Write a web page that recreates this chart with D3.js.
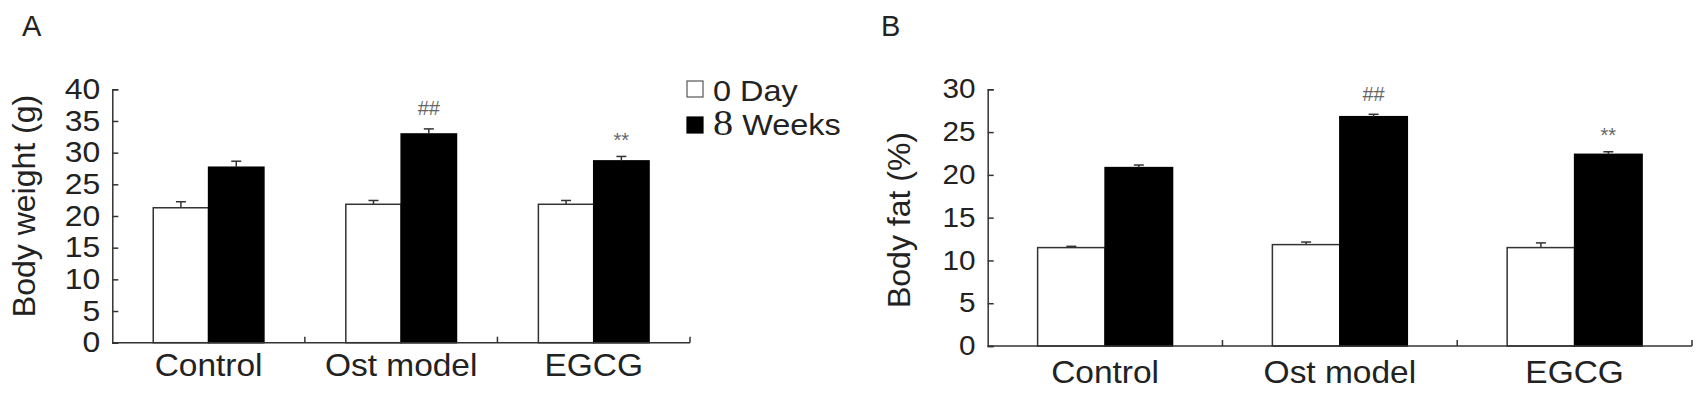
<!DOCTYPE html>
<html>
<head>
<meta charset="utf-8">
<script src="https://cdn.jsdelivr.net/npm/d3@7"></script>
<style>
  body { margin: 0; background: #fff; }
  text { font-family: Arial, "Liberation Sans", sans-serif; fill: #222; }
</style>
</head>
<body>
<div class="canvas"></div>
<script>
// data
const categories = ['Control', 'Ost model', 'EGCG']
const series = ['0 Day', '8 Weeks']

const weightDay0 = [21.3, 21.85, 21.85]
const weightDay0Err = [0.95, 0.6, 0.6]
const weightWeek8 = [27.7, 32.95, 28.7]
const weightWeek8Err = [0.95, 0.8, 0.7]
const weightMarks = ['', '##', '**']
const weightTicks = [0, 5, 10, 15, 20, 25, 30, 35, 40]

const fatDay0 = [11.5, 11.85, 11.5]
const fatDay0Err = [0.15, 0.3, 0.55]
const fatWeek8 = [20.85, 26.8, 22.4]
const fatWeek8Err = [0.3, 0.28, 0.3]
const fatMarks = ['', '##', '**']
const fatTicks = [0, 5, 10, 15, 20, 25, 30]

const fills = {'0 Day': '#fff', '8 Weeks': '#000'}
const ink = '#333'

const svg = d3.select('.canvas')
  .append('svg')
  .attr('width', 1705)
  .attr('height', 396)

const drawPanel = (p) => {
  const rows = categories.map((c, i) => ({
    cat: c,
    bars: [
      {key: series[0], value: p.day0[i], err: p.day0Err[i]},
      {key: series[1], value: p.week8[i], err: p.week8Err[i]}
    ],
    mark: p.marks[i]
  }))

  const y = d3.scaleLinear()
    .domain([0, d3.max(p.ticks)])
    .range([p.bottom, p.top])

  const x0 = d3.scaleBand()
    .domain(categories)
    .range([p.left, p.right])
    .padding(0)

  const x1 = d3.scaleBand()
    .domain(series)
    .range([0, x0.bandwidth()])
    .paddingInner(0)
    .paddingOuter(0.74)

  // y axis, ticks pointing inwards
  const yAxis = d3.axisLeft(y)
    .tickValues(p.ticks)
    .tickSize(-6)
    .tickPadding(11)

  const yg = svg.append('g')
    .attr('transform', `translate(${p.left}, 0)`)
    .call(yAxis)
  yg.selectAll('path, line').attr('stroke', ink).attr('stroke-width', 1.5)
  yg.selectAll('text')
    .attr('font-size', p.tickFont)
    .attr('font-family', 'Arial, "Liberation Sans", sans-serif')
    .attr('fill', '#222')
    .attr('transform', 'scale(1.1, 1)')

  // bars
  const groups = svg.selectAll(null)
    .data(rows)
    .enter()
    .append('g')
    .attr('transform', d => `translate(${x0(d.cat)}, 0)`)

  groups.selectAll('rect')
    .data(d => d.bars)
    .enter()
    .append('rect')
    .attr('x', d => x1(d.key))
    .attr('y', d => y(d.value))
    .attr('width', x1.bandwidth())
    .attr('height', d => y(0) - y(d.value))
    .attr('fill', d => fills[d.key])
    .attr('stroke', d => d.key === series[0] ? ink : '#000')
    .attr('stroke-width', 1.5)

  // error bars (upper only)
  const errs = groups.selectAll('g.err')
    .data(d => d.bars)
    .enter()
    .append('g')
    .attr('class', 'err')
    .attr('transform', d => `translate(${x1(d.key) + x1.bandwidth() / 2}, 0)`)

  errs.append('line')
    .attr('y1', d => y(d.value))
    .attr('y2', d => y(d.value + d.err))
    .attr('stroke', ink)
    .attr('stroke-width', 1.5)
  errs.append('line')
    .attr('x1', -5).attr('x2', 5)
    .attr('y1', d => y(d.value + d.err))
    .attr('y2', d => y(d.value + d.err))
    .attr('stroke', ink)
    .attr('stroke-width', 1.5)

  // significance marks over the 8 week bar
  groups.filter(d => d.mark)
    .append('text')
    .attr('x', x1(series[1]) + x1.bandwidth() / 2)
    .attr('y', d => y(d.bars[1].value + d.bars[1].err) - (d.mark === '##' ? 13.5 : 9.5))
    .attr('text-anchor', 'middle')
    .attr('font-size', 20)
    .style('fill', '#666')
    .text(d => d.mark)

  // x axis line with boundary ticks pointing up
  svg.append('line')
    .attr('x1', p.left).attr('x2', p.right)
    .attr('y1', p.bottom).attr('y2', p.bottom)
    .attr('stroke', ink).attr('stroke-width', 1.5)

  svg.selectAll(null)
    .data(categories)
    .enter()
    .append('line')
    .attr('x1', d => x0(d) + x0.bandwidth())
    .attr('x2', d => x0(d) + x0.bandwidth())
    .attr('y1', p.bottom)
    .attr('y2', p.bottom - 6)
    .attr('stroke', ink).attr('stroke-width', 1.5)

  svg.selectAll(null)
    .data(categories)
    .enter()
    .append('text')
    .attr('transform', d => `translate(${x0(d) + x0.bandwidth() / 2}, ${p.bottom + p.catDy}) scale(1.08, 1)`)
    .attr('text-anchor', 'middle')
    .attr('font-size', 31)
    .text(d => d)

  // axis title
  svg.append('text')
    .attr('transform', `translate(${p.titleX}, ${p.titleY}) rotate(-90)`)
    .attr('text-anchor', 'middle')
    .attr('font-size', 32)
    .text(p.title)

  // panel letter
  svg.append('text')
    .attr('x', p.labelX)
    .attr('y', 36)
    .attr('font-size', 29)
    .text(p.label)
}

drawPanel({
  day0: weightDay0, day0Err: weightDay0Err,
  week8: weightWeek8, week8Err: weightWeek8Err,
  marks: weightMarks, ticks: weightTicks,
  left: 112.3, right: 690, top: 89.3, bottom: 342.7,
  tickFont: 29, catDy: 33.5,
  title: 'Body weight (g)', titleX: 35, titleY: 206,
  label: 'A', labelX: 22
})

drawPanel({
  day0: fatDay0, day0Err: fatDay0Err,
  week8: fatWeek8, week8Err: fatWeek8Err,
  marks: fatMarks, ticks: fatTicks,
  left: 987.7, right: 1692, top: 89.3, bottom: 346,
  tickFont: 27, catDy: 37.3,
  title: 'Body fat (%)', titleX: 910, titleY: 220,
  label: 'B', labelX: 881
})

// legend (panel A only)
const legend = svg.append('g')
  .attr('transform', 'translate(687, 81)')

const legendItems = legend.selectAll('g')
  .data(series)
  .enter()
  .append('g')
  .attr('transform', (d, i) => `translate(0, ${i * 36})`)

legendItems.append('rect')
  .attr('width', 16)
  .attr('height', 16)
  .attr('fill', d => fills[d])
  .attr('stroke', (d, i) => i === 0 ? '#555' : '#000')
  .attr('stroke-width', 1.2)

legendItems.append('text')
  .attr('transform', (d, i) => `translate(26, ${i === 0 ? 19.5 : 18}) scale(1.12, 1)`)
  .attr('font-size', 29)
  .each(function (d) {
    const t = d3.select(this)
    const parts = d.split(' ')
    if (/^\d+$/.test(parts[0]) && parts[1] === 'Weeks') {
      // the "8" is set in a serif face in the original
      t.append('tspan')
        .style('font-family', '"Liberation Serif", "Times New Roman", serif')
        .attr('font-size', 36)
        .text(parts[0])
      t.append('tspan').text(' ' + parts.slice(1).join(' '))
    } else {
      t.text(d)
    }
  })
</script>
</body>
</html>
